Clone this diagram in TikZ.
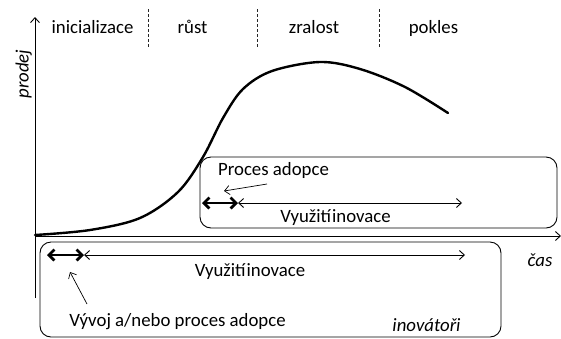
\documentclass[tikz,border=0pt]{standalone}
\usepackage{fontspec}
\setmainfont{Carlito}
\usetikzlibrary{arrows.meta}

\tikzset{
  lbl/.style={inner sep=0pt, anchor=base, font=\fontsize{18.8}{22}\selectfont},
  ilbl/.style={lbl, font=\fontsize{18.8}{22}\selectfont\itshape},
  thin tip/.style={-{Straight Barb[length=5pt,width=9pt]}},
  both thin/.style={{Straight Barb[length=5pt,width=9pt]}-{Straight Barb[length=5pt,width=9pt]}},
  both thick/.style={line width=2.8pt,{Straight Barb[length=5.5pt,width=11pt]}-{Straight Barb[length=5.5pt,width=11pt]}},
  phase sep/.style={dash pattern=on 3pt off 2pt, line width=0.9pt, black!85},
  roundbox/.style={draw, rounded corners=11pt, line width=0.9pt, inner sep=0pt}
}

\begin{document}
\begin{tikzpicture}[x=1pt, y=-1pt, line width=0.9pt]
\useasboundingbox (0,0) rectangle (561,338);

% axes
\coordinate (O) at (35,236);
\coordinate (ybot) at (35,298);
\coordinate (ytop) at (35,17);
\coordinate (xend) at (561,236);
\draw[thin tip] (ybot) -- (ytop);
\draw[thin tip] (O) -- (xend);

% phase labels and separators
\node[lbl] (ini) at (92.5,33) {inicializace};
\node[lbl] (rust) at (192.5,33) {růst};
\node[lbl] (zral) at (314,33) {zralost};
\node[lbl] (pokl) at (433.5,33) {pokles};
\foreach \xx in {148,257,379}
  \draw[phase sep] (\xx,9) -- (\xx,47);

\node[ilbl, rotate=90] (prodej) at (28.5,74) {prodej};
\node[ilbl] (cas) at (540,266.5) {čas};

% sales curve
\draw[line width=2.4pt, line cap=round] plot[smooth, tension=0.55] coordinates {
  (35,235) (90,230) (140,218) (178,192) (203,157) (223,118) (243,89)
  (272,71) (320,62) (360,69) (405,87) (448,113)};

% upper box: adoption process
\node[roundbox, minimum width=357pt, minimum height=71pt] (upper) at (378.5,192.5) {};
\node[lbl] (proc) at (273.5,175) {Proces adopce};
\coordinate (p1a) at (202,203);
\coordinate (p1b) at (238,203);
\coordinate (p1c) at (462,203);
\draw[both thick] (p1a) -- (p1b);
\draw[both thin] (p1b) -- (p1c);
\coordinate (pt1) at (267,184);
\coordinate (pt1e) at (224,191);
\draw[thin tip, line width=0.7pt] (pt1) -- (pt1e);
\node[lbl] (vyu1) at (335.5,222.5) {Využití\hspace{1pt}inovace};

% lower box: innovators
\node[roundbox, minimum width=461pt, minimum height=95pt] (lower) at (270.5,289.5) {};
\coordinate (p2a) at (47,255);
\coordinate (p2b) at (84,255);
\coordinate (p2c) at (465,255);
\draw[both thick] (p2a) -- (p2b);
\draw[both thin] (p2b) -- (p2c);
\node[lbl] (vyu2) at (250,276.5) {Využití\hspace{1pt}inovace};
\node[lbl] (vyvoj) at (177.5,326.5) {Vývoj a/nebo proces adopce};
\node[ilbl] (inov) at (426.5,331.5) {inovátoři};
\coordinate (pt2) at (87,304);
\coordinate (pt2e) at (70,272);
\draw[thin tip, line width=0.7pt] (pt2) -- (pt2e);
\end{tikzpicture}
\end{document}
